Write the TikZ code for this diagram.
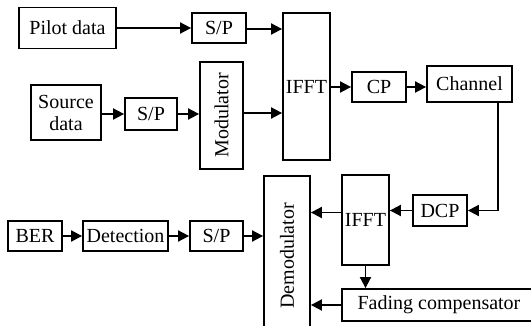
\documentclass[tikz,border=0pt]{standalone}
\usepackage{fontspec}
\usepackage{graphicx}
\setmainfont{Liberation Serif}
\usetikzlibrary{arrows.meta}
\tikzset{
  blk/.style={draw, line width=1.8pt, inner sep=0pt, align=center,
    font=\fontsize{20}{22}\selectfont},
  flow/.style={line width=1.8pt, -{Triangle[length=11pt,width=11pt]}}
}
\begin{document}
\begin{tikzpicture}[x=1pt,y=-1pt]
\useasboundingbox (0,0) rectangle (531,326);
\clip (0,0) rectangle (531,326);
\fill[white] (0,0) rectangle (531,326);

% transmitter
\node[blk, minimum width=97pt, minimum height=41pt] (pilot) at (67.5,28) {Pilot data};
\node[blk, minimum width=54pt, minimum height=30pt] (sp1) at (219,28) {S/P};
\node[blk, minimum width=47pt, minimum height=147pt] (ifft1) at (306.5,86.5) {IFFT};
\node[blk, minimum width=70pt, minimum height=55pt] (src) at (66,112.5) {Source\\data};
\node[blk, minimum width=52pt, minimum height=32pt] (sp2) at (151,114) {S/P};
\node[blk, minimum width=43pt, minimum height=107pt] (mod) at (221.5,115.5) {\rotatebox{90}{Modulator}};
\node[blk, minimum width=54pt, minimum height=30pt] (cp) at (379,87) {CP};
\node[blk, minimum width=85pt, minimum height=36pt] (chan) at (469.5,84) {Channel};

% receiver
\node[blk, minimum width=54pt, minimum height=31pt] (dcp) at (440,210.5) {DCP};
\node[blk, minimum width=47pt, minimum height=90pt] (ifft2) at (365.5,220) {IFFT};
\node[blk, minimum width=46pt, minimum height=160pt] (demod) at (287,256) {\rotatebox{90}{Demodulator}};
\node[blk, minimum width=194pt, minimum height=32pt] (fade) at (439,305) {Fading compensator};
\node[blk, minimum width=54pt, minimum height=30pt] (ber) at (35,236) {BER};
\node[blk, minimum width=85pt, minimum height=30pt] (det) at (125.5,236) {Detection};
\node[blk, minimum width=53pt, minimum height=30pt] (sp3) at (216.5,236) {S/P};

\coordinate (chdown) at (498,102);
\coordinate (chturn) at (498,210.5);

% connectors
\draw[flow] (pilot.east) -- (pilot.east -| sp1.west);
\draw[flow] ([yshift=-1pt]sp1.east) -- ([yshift=-1pt]sp1.east -| ifft1.west);
\draw[flow] (src.east |- sp2.west) -- (sp2.west);
\draw[flow] (sp2.east) -- (sp2.east -| mod.west);
\draw[flow] ([yshift=2.5pt]mod.east) -- ([yshift=2.5pt]mod.east -| ifft1.west);
\draw[flow] (ifft1.east |- cp.west) -- (cp.west);
\draw[flow] (cp.east) -- (cp.east -| chan.west);
\draw[flow] (chdown) -- (chturn) -- (dcp.east);
\draw[flow] (dcp.west) -- (dcp.west -| ifft2.east);
\draw[flow] ([yshift=-2pt]ifft2.west |- dcp.west) -- ([yshift=-2pt]dcp.west -| demod.east);
\draw[flow] (ifft2.south) -- (ifft2.south |- fade.north);
\draw[flow] (fade.west) -- (fade.west -| demod.east);
\draw[flow] (ber.east) -- (det.west);
\draw[flow] (det.east) -- (sp3.west);
\draw[flow] (sp3.east) -- (sp3.east -| demod.west);
\end{tikzpicture}
\end{document}
